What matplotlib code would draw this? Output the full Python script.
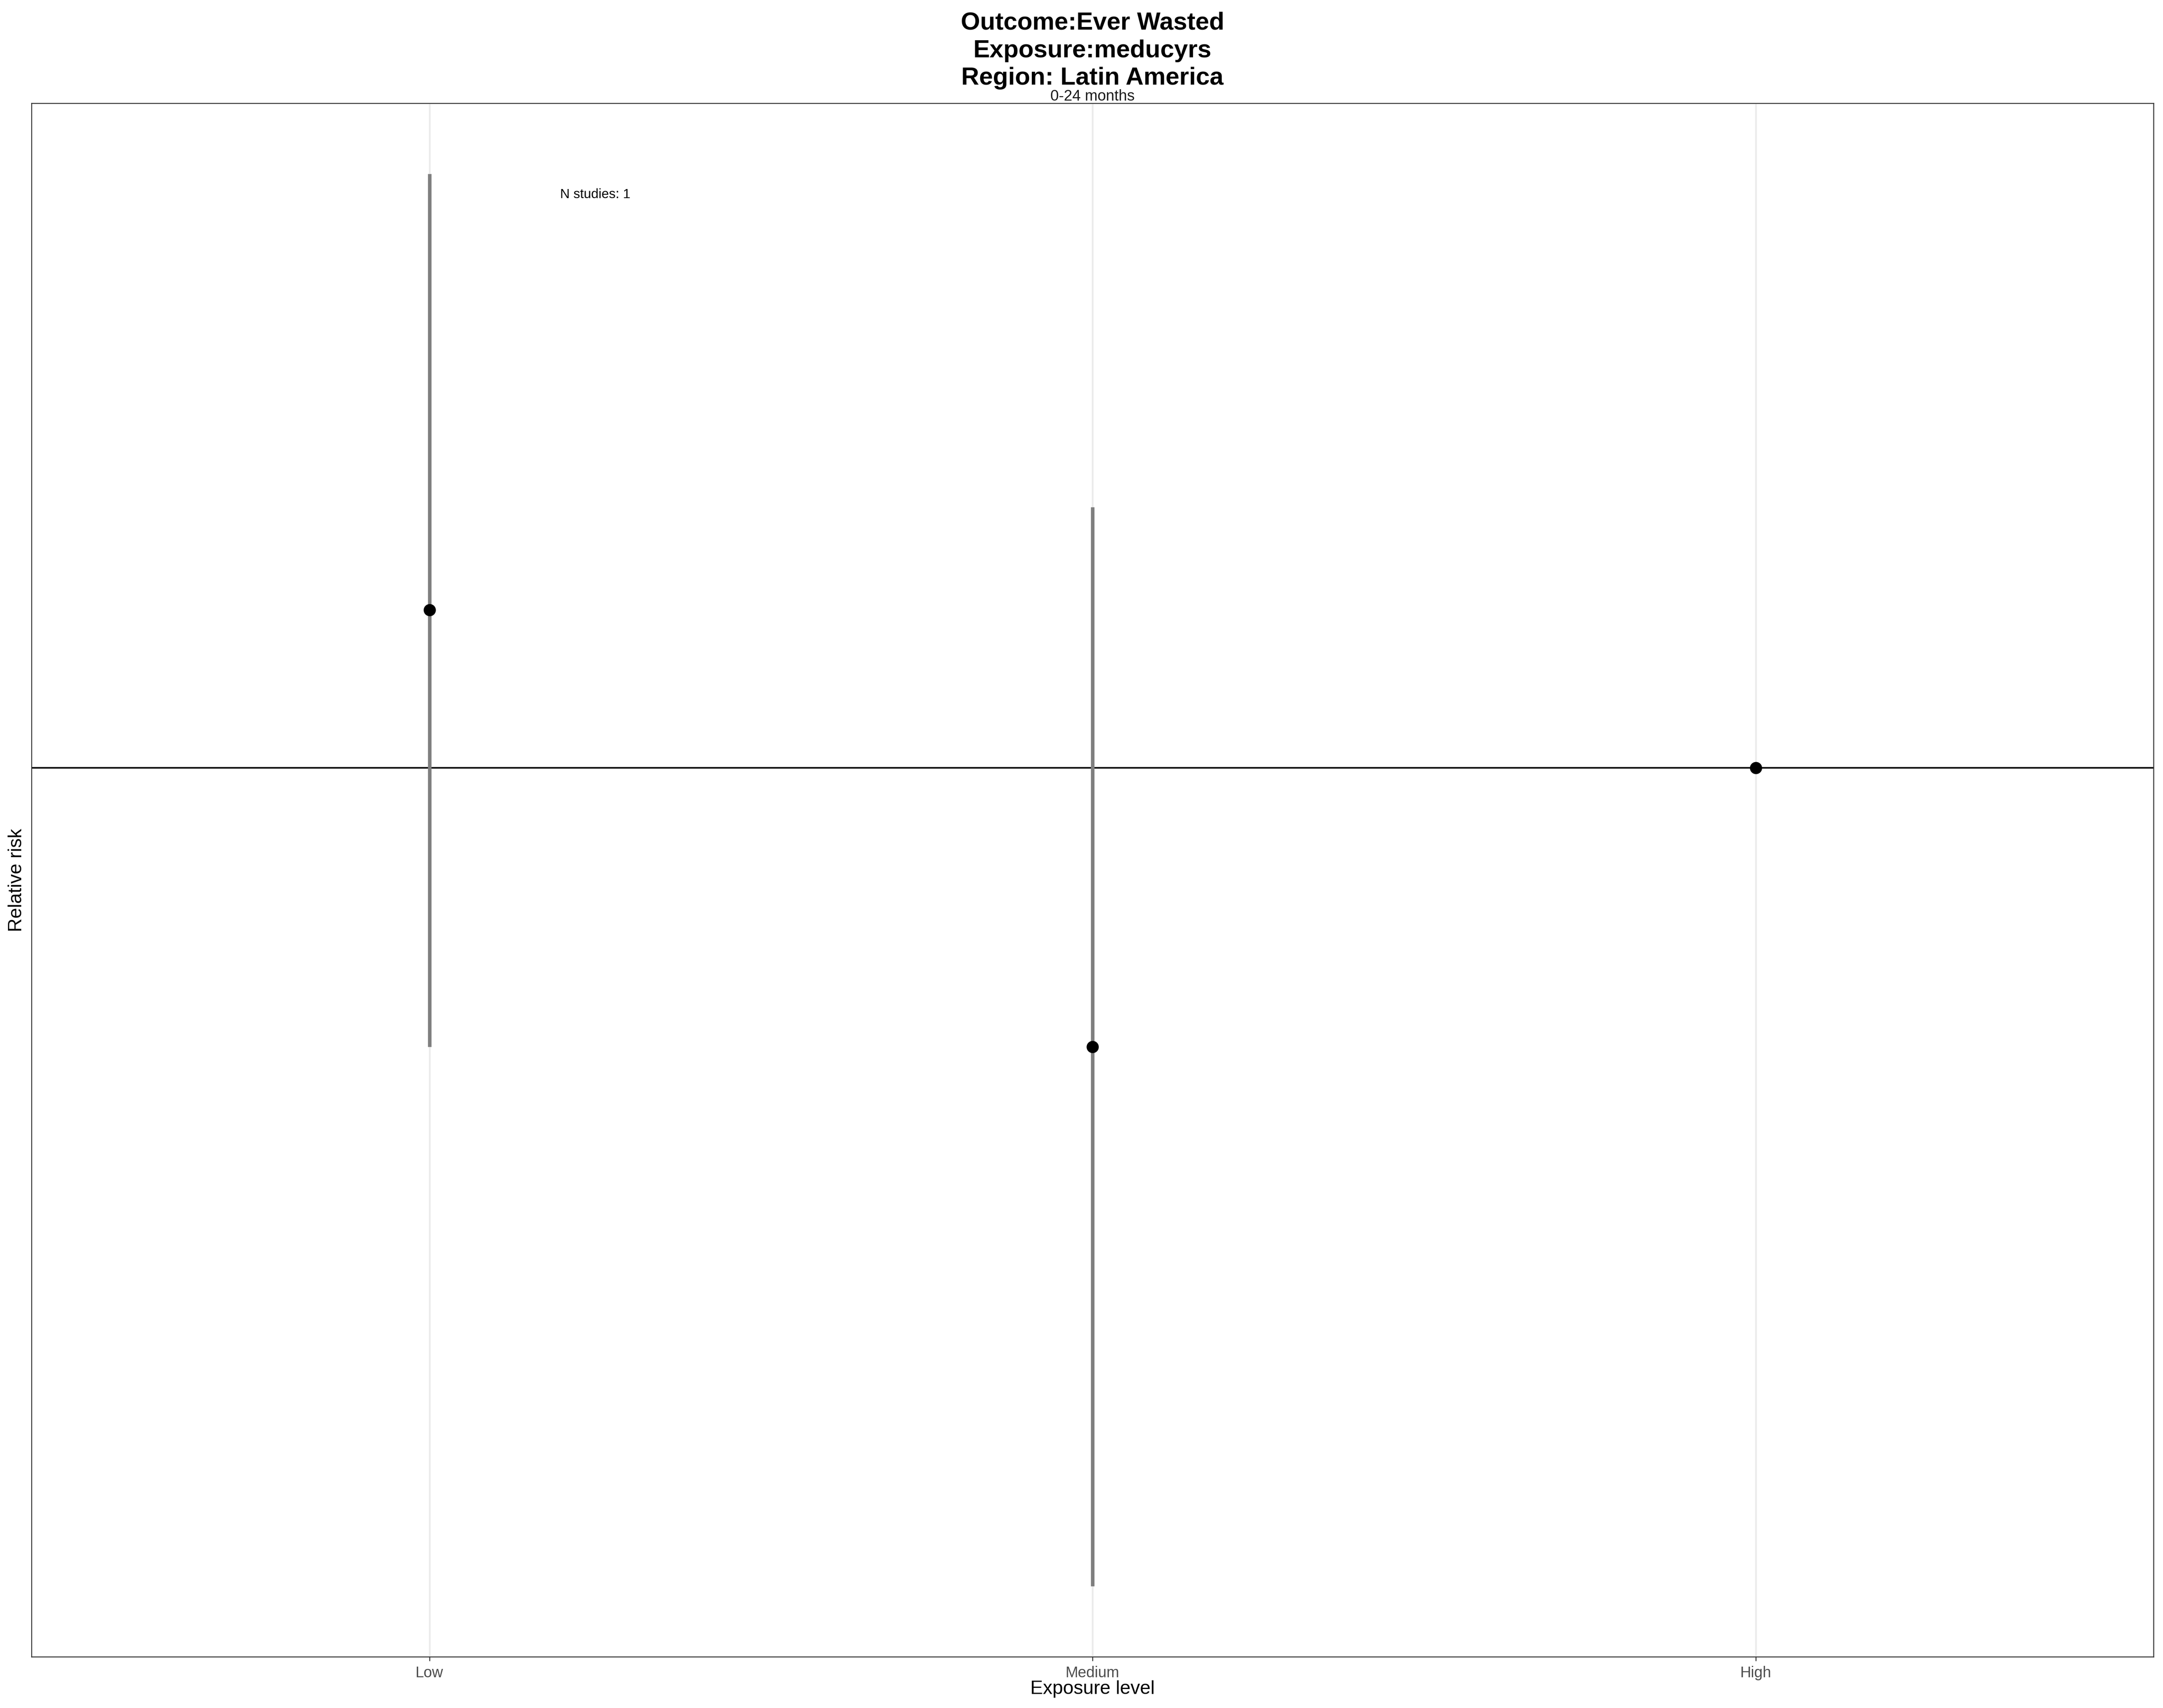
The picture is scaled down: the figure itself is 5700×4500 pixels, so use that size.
import numpy as np
import matplotlib
matplotlib.use("Agg")
import matplotlib.pyplot as plt
from matplotlib.ticker import NullLocator, FixedLocator
import matplotlib.transforms as mtransforms

# ---- data ----
categories = ["Low", "Medium", "High"]
rr = [1.48, 0.50, 1.0]
ci_lower = [0.50, 0.131, 1.0]
ci_upper = [4.37, 1.91, 1.0]
n_studies_label = "N studies: 1"
title_lines = ["Outcome:Ever Wasted", "Exposure:meducyrs", "Region: Latin America"]
subtitle = "0-24 months"
xlabel = "Exposure level"
ylabel = "Relative risk"

plt.rcParams['font.family'] = ['Liberation Sans', 'DejaVu Sans']

W, H, DPI = 5700, 4500, 300
fig = plt.figure(figsize=(W / DPI, H / DPI), dpi=DPI)
fig.patch.set_facecolor("white")

px_l, px_r, px_t, px_b = 83, 5675, 272, 4365
ax = fig.add_axes([px_l / W, 1 - px_b / H, (px_r - px_l) / W, (px_b - px_t) / H])

x = np.arange(1, len(categories) + 1)

# reference line at RR = 1
ax.axhline(1.0, color="black", lw=1.0, zorder=2)

# confidence intervals
lo = np.array(ci_lower, dtype=float)
hi = np.array(ci_upper, dtype=float)
ax.vlines(x, lo, hi, color="#7F7F7F", lw=2.24, zorder=3, capstyle="butt")

# points
ax.plot(x, rr, "o", color="black", markersize=7.7, markeredgewidth=0, zorder=4)

# scales
ax.set_yscale("log")
lmin = np.log10(np.nanmin(lo))
lmax = np.log10(np.nanmax(hi))
pad = 0.05 * (lmax - lmin)
ax.set_ylim(10 ** (lmin - pad), 10 ** (lmax + pad))
ax.yaxis.set_major_locator(NullLocator())
ax.yaxis.set_minor_locator(NullLocator())

ax.set_xlim(0.4, len(categories) + 0.6)
ax.xaxis.set_major_locator(FixedLocator(x))
ax.set_xticklabels(categories)
ax.xaxis.set_minor_locator(NullLocator())
ax.tick_params(axis="x", length=2.75, width=0.6, color="#333333", pad=3,
               labelsize=9.6, labelcolor="#4D4D4D")
ax.tick_params(axis="y", left=False, labelleft=False)

ax.grid(axis="x", color="#EBEBEB", lw=1.1, zorder=0)
ax.set_axisbelow(True)
for s in ax.spines.values():
    s.set_color("#333333")
    s.set_linewidth(0.6)

# N studies annotation
trans = mtransforms.blended_transform_factory(ax.transData, ax.transAxes)
ax.text(1.25, (px_b - 513) / (px_b - px_t), n_studies_label, transform=trans,
        ha="center", va="center", fontsize=8.4, color="black")

# titles
cx = (px_l + px_r) / 2 / W
for line, base in zip(title_lines, [78, 151, 223]):
    fig.text(cx, 1 - base / H, line, ha="center", va="baseline",
             fontsize=15.7, fontweight="bold", color="black")
fig.text(cx, 1 - 265 / H, subtitle, ha="center", va="baseline", fontsize=9.6, color="#1A1A1A")

# axis titles
fig.text(cx, 1 - 4463 / H, xlabel, ha="center", va="baseline", fontsize=12, color="black")
fig.text(44 / W, 1 - ((px_t + px_b) / 2) / H, ylabel, ha="center", va="center",
         rotation=90, fontsize=12, color="black")

fig.savefig("out.png", dpi=DPI, facecolor="white")
